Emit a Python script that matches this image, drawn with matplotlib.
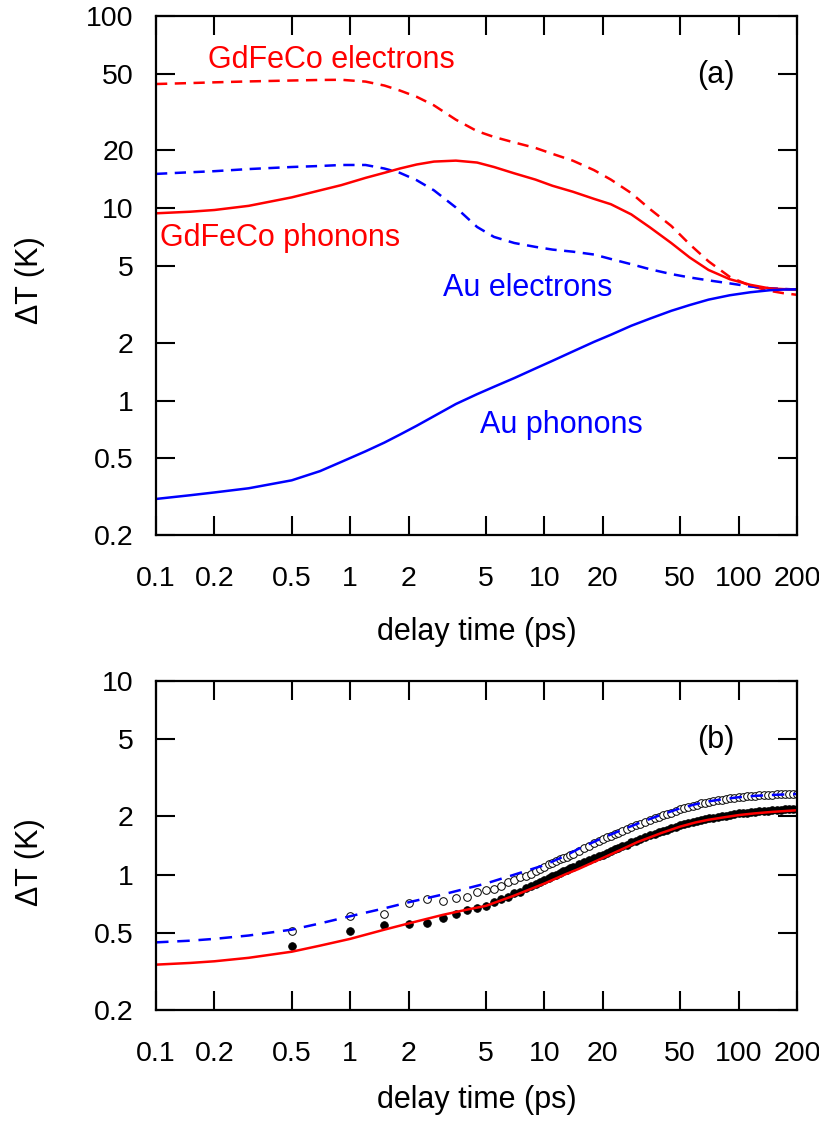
import matplotlib
matplotlib.use("Agg")
import matplotlib.pyplot as plt
from matplotlib.ticker import FixedLocator, FixedFormatter, NullLocator

plt.rcParams['font.family'] = ['Liberation Sans', 'DejaVu Sans']

# panel (a): model temperatures
t_a = [0.1, 0.15, 0.2, 0.3, 0.5, 0.7, 0.9, 1.2, 1.5, 1.8, 2.2, 2.7, 3.5, 4.5, 5.5, 7, 9, 11, 14,
       18, 22, 28, 35, 45, 56, 70, 90, 115, 145, 170, 200]
gdfeco_el = [44.3, 44.8, 45.2, 45.7, 46.2, 46.5, 46.6, 45.6, 43.5, 41.0, 38.0, 34.3, 28.9, 25.2,
             23.5, 22.0, 20.6, 19.2, 17.7, 15.8, 14.1, 12.0, 9.9, 8.1, 6.5, 5.3, 4.4, 3.95, 3.72,
             3.62, 3.55]
gdfeco_ph = [9.42, 9.6, 9.8, 10.3, 11.4, 12.4, 13.2, 14.4, 15.3, 16.1, 16.9, 17.5, 17.7, 17.3,
             16.4, 15.2, 14.1, 13.1, 12.2, 11.2, 10.5, 9.3, 7.95, 6.6, 5.55, 4.78, 4.28, 4.0, 3.83,
             3.8, 3.78]
au_el = [15.1, 15.4, 15.6, 16.0, 16.4, 16.6, 16.8, 16.8, 16.1, 15.3, 14.0, 12.4, 10.1, 8.0, 7.1,
         6.6, 6.3, 6.1, 5.95, 5.75, 5.45, 5.12, 4.82, 4.55, 4.37, 4.22, 4.07, 3.92, 3.84, 3.81, 3.78]
au_ph = [0.308, 0.322, 0.333, 0.35, 0.385, 0.43, 0.48, 0.545, 0.605, 0.665, 0.74, 0.83, 0.96, 1.08,
         1.18, 1.31, 1.47, 1.61, 1.80, 2.02, 2.2, 2.45, 2.67, 2.93, 3.14, 3.35, 3.53, 3.66, 3.75,
         3.78, 3.79]

# panel (b): models
t_b = [0.1, 0.15, 0.2, 0.3, 0.5, 0.7, 1, 1.5, 2, 3, 4, 5, 7, 10, 13, 15, 20, 25, 30, 40, 50, 60,
       70, 85, 100, 120, 150, 200]
model_au = [0.447, 0.456, 0.466, 0.485, 0.52, 0.56, 0.61, 0.67, 0.72, 0.79, 0.85, 0.90, 1.00, 1.12,
            1.26, 1.36, 1.55, 1.70, 1.83, 2.04, 2.20, 2.31, 2.39, 2.46, 2.51, 2.55, 2.58, 2.61]
model_gd = [0.343, 0.35, 0.357, 0.372, 0.40, 0.43, 0.466, 0.52, 0.56, 0.62, 0.66, 0.69, 0.78, 0.90,
            1.01, 1.07, 1.22, 1.35, 1.47, 1.64, 1.77, 1.86, 1.92, 1.98, 2.03, 2.07, 2.11, 2.15]

# panel (b): measured points
t_meas = [0.5, 1.0, 1.5, 2.0, 2.5, 3.0, 3.5, 4.0, 4.5, 5.0, 5.5, 6.0, 6.5, 7.0, 7.5, 8.0, 8.5, 9.0,
          9.5, 10, 10.5, 11, 11.5, 12, 12.5, 13, 13.5, 14, 15, 16, 17, 18, 19, 20, 21, 22, 23, 24,
          25, 26.5, 28, 29.5, 31, 33, 35, 37, 39, 41, 43, 45, 47.5, 50, 52.5, 55, 58, 61, 64, 67,
          70, 74, 78, 82, 86, 90, 95, 100, 105, 110, 116, 122, 128, 135, 142, 149, 157, 165, 173,
          182, 191, 200]
meas_open = [0.51, 0.61, 0.63, 0.715, 0.75, 0.735, 0.76, 0.77, 0.81, 0.83, 0.845, 0.875, 0.92, 0.94,
             0.97, 0.98, 1.01, 1.04, 1.07, 1.10, 1.13, 1.15, 1.18, 1.20, 1.22, 1.24, 1.26, 1.28,
             1.33, 1.37, 1.41, 1.45, 1.49, 1.53, 1.56, 1.59, 1.62, 1.65, 1.68, 1.72, 1.76, 1.80,
             1.83, 1.88, 1.92, 1.96, 1.99, 2.03, 2.06, 2.09, 2.13, 2.17, 2.20, 2.23, 2.26, 2.30,
             2.33, 2.35, 2.37, 2.40, 2.42, 2.44, 2.46, 2.48, 2.50, 2.51, 2.52, 2.54, 2.55, 2.56,
             2.57, 2.58, 2.59, 2.59, 2.60, 2.60, 2.61, 2.61, 2.62, 2.62]
meas_fill = [0.43, 0.51, 0.55, 0.555, 0.565, 0.60, 0.63, 0.66, 0.67, 0.69, 0.725, 0.75, 0.77, 0.80,
             0.81, 0.85, 0.87, 0.90, 0.92, 0.94, 0.96, 0.98, 1.00, 1.02, 1.04, 1.06, 1.08, 1.10,
             1.13, 1.16, 1.19, 1.22, 1.25, 1.27, 1.30, 1.32, 1.35, 1.37, 1.40, 1.43, 1.47, 1.50,
             1.53, 1.57, 1.60, 1.63, 1.66, 1.69, 1.71, 1.74, 1.77, 1.80, 1.82, 1.85, 1.87, 1.89,
             1.91, 1.93, 1.95, 1.97, 1.99, 2.01, 2.02, 2.04, 2.05, 2.07, 2.08, 2.09, 2.10, 2.11,
             2.12, 2.13, 2.14, 2.15, 2.16, 2.16, 2.17, 2.17, 2.18, 2.18]

x_ticks = [0.1, 0.2, 0.5, 1, 2, 5, 10, 20, 50, 100, 200]
x_labels = ["0.1", "0.2", "0.5", "1", "2", "5", "10", "20", "50", "100", "200"]
y_ticks_a = [0.2, 0.5, 1, 2, 5, 10, 20, 50, 100]
y_labels_a = ["0.2", "0.5", "1", "2", "5", "10", "20", "50", "100"]
y_ticks_b = [0.2, 0.5, 1, 2, 5, 10]
y_labels_b = ["0.2", "0.5", "1", "2", "5", "10"]

LW = 1.8
TICK_FS = 20.5
LABEL_FS = 22


def style_axis(ax, yticks, ylabels, ylim):
	ax.set_xscale("log")
	ax.set_yscale("log")
	ax.set_xlim(0.1, 200)
	ax.set_ylim(*ylim)
	ax.xaxis.set_major_locator(FixedLocator(x_ticks))
	ax.xaxis.set_major_formatter(FixedFormatter(x_labels))
	ax.yaxis.set_major_locator(FixedLocator(yticks))
	ax.yaxis.set_major_formatter(FixedFormatter(ylabels))
	ax.xaxis.set_minor_locator(NullLocator())
	ax.yaxis.set_minor_locator(NullLocator())
	ax.tick_params(which="major", direction="in", top=True, right=True, length=14,
	               width=1.5, labelsize=TICK_FS)
	ax.tick_params(axis="x", pad=22)
	ax.tick_params(axis="y", pad=16)
	for sp in ax.spines.values():
		sp.set_linewidth(1.6)
	ax.set_xlabel("delay time (ps)", fontsize=LABEL_FS)
	ax.set_ylabel("\u0394T (K)", fontsize=LABEL_FS)


fig = plt.figure(figsize=(8.19, 11.28), dpi=100)
ax_a = fig.add_axes([0.1905, 0.5257, 0.7827, 0.4601])
ax_b = fig.add_axes([0.1905, 0.1046, 0.7827, 0.2917])

# --- panel (a)
ax_a.plot(t_a, gdfeco_el, color="red", lw=LW, ls=(0, (4.5, 3)))
ax_a.plot(t_a, au_el, color="blue", lw=LW, ls=(0, (4.5, 3)))
ax_a.plot(t_a, gdfeco_ph, color="red", lw=LW)
ax_a.plot(t_a, au_ph, color="blue", lw=LW)
style_axis(ax_a, y_ticks_a, y_labels_a, (0.2, 100))

ax_a.text(0.081, 0.915, "GdFeCo electrons", color="red", fontsize=LABEL_FS,
          transform=ax_a.transAxes, va="center")
ax_a.text(0.006, 0.572, "GdFeCo phonons", color="red", fontsize=LABEL_FS,
          transform=ax_a.transAxes, va="center")
ax_a.text(0.448, 0.476, "Au electrons", color="blue", fontsize=LABEL_FS,
          transform=ax_a.transAxes, va="center")
ax_a.text(0.505, 0.212, "Au phonons", color="blue", fontsize=LABEL_FS,
          transform=ax_a.transAxes, va="center")
ax_a.text(0.844, 0.887, "(a)", color="black", fontsize=LABEL_FS,
          transform=ax_a.transAxes, va="center")

# --- panel (b)
ax_b.plot(t_meas, meas_fill, ls="none", marker="o", ms=5.5, mfc="black", mec="black", mew=0.6)
ax_b.plot(t_meas, meas_open, ls="none", marker="o", ms=5.5, mfc="white", mec="black", mew=0.7)
ax_b.plot(t_b, model_au, color="blue", lw=LW, ls=(0, (5, 3.5)))
ax_b.plot(t_b, model_gd, color="red", lw=LW)
style_axis(ax_b, y_ticks_b, y_labels_b, (0.2, 10))
ax_b.text(0.844, 0.82, "(b)", color="black", fontsize=LABEL_FS,
          transform=ax_b.transAxes, va="center")

# label positions
ax_a.xaxis.set_label_coords(0.5, -0.187)
ax_a.xaxis.label.set_va("center")
ax_a.yaxis.set_label_coords(-0.197, 0.491)
ax_a.yaxis.label.set_va("center")
ax_b.xaxis.set_label_coords(0.5, -0.274)
ax_b.xaxis.label.set_va("center")
ax_b.yaxis.set_label_coords(-0.197, 0.45)
ax_b.yaxis.label.set_va("center")

fig.savefig("out.png", dpi=100)
